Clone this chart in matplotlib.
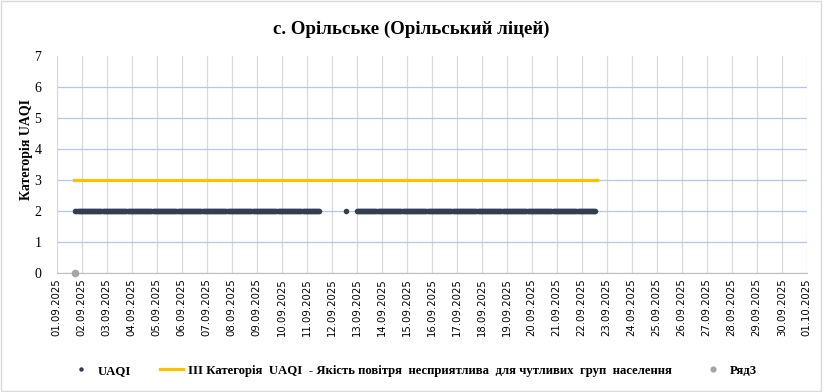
import matplotlib

matplotlib.use("Agg")
import matplotlib.dates as mdates
import matplotlib.pyplot as plt
import pandas as pd
from matplotlib.patches import Rectangle

# hourly UAQI category: observed runs of measurements (start, end, category)
uaqi_runs = [
    ("2025-09-01 18:00", "2025-09-11 12:00", 2),
    ("2025-09-12 14:00", "2025-09-12 14:00", 2),
    ("2025-09-13 00:00", "2025-09-22 13:00", 2),
]
# category III threshold line
threshold_start = "2025-09-01 17:00"
threshold_end = "2025-09-22 15:00"
threshold_level = 3
# Ряд3: single point
ryad3_time = ["2025-09-01 18:00"]
ryad3_value = [0]

x_min, x_max = "2025-09-01", "2025-10-01"
y_ticks = list(range(0, 8))

title = "с. Орільське (Орільський ліцей)"
y_label = "Категорія UAQI"
threshold_label = ("III Категорія  UAQI  - Якість повітря  несприятлива  "
                   "для чутливих  груп  населення")

uaqi_t, uaqi_v = [], []
for start, end, cat in uaqi_runs:
    ts = pd.date_range(start, end, freq="h")
    uaqi_t.extend(ts)
    uaqi_v.extend([cat] * len(ts))
thr_t = pd.date_range(threshold_start, threshold_end, freq="h")
thr_v = [threshold_level] * len(thr_t)

serif = "Liberation Serif"

fig = plt.figure(figsize=(8.23, 3.92), dpi=100)
ax = fig.add_axes([0.0689, 0.3036, 0.9113, 0.5534])

ax.plot(uaqi_t, uaqi_v, ls="none", marker="o", ms=4.0, mew=0,
        color="#333F50", label="UAQI", zorder=3)
ax.plot(thr_t, thr_v, color="#FFC000", lw=2.3, label=threshold_label, zorder=2)
ax.plot(pd.to_datetime(ryad3_time), ryad3_value, ls="none", marker="o",
        ms=5.5, mew=0, color="#A5A5A5", label="Ряд3", clip_on=False, zorder=4)

ax.set_xlim(pd.Timestamp(x_min), pd.Timestamp(x_max))
ax.set_ylim(0, 7)
ax.set_yticks(y_ticks)
ax.xaxis.set_major_locator(mdates.DayLocator())
ax.xaxis.set_major_formatter(mdates.DateFormatter("%d.%m.%Y"))
for lbl in ax.get_xticklabels():
    lbl.set_rotation(90)
    lbl.set_fontsize(7.3)
    lbl.set_family("DejaVu Sans")
for lbl in ax.get_yticklabels():
    lbl.set_fontsize(10)
    lbl.set_family(serif)
ax.tick_params(axis="x", length=0, pad=4)
ax.tick_params(axis="y", length=0, pad=11)

ax.grid(axis="x", color="#D9D9D9", lw=0.9)
ax.grid(axis="y", color="#B4C7E7", lw=0.9)
ax.get_ygridlines()[-1].set_visible(False)
ax.set_axisbelow(True)
for side in ("top", "right"):
    ax.spines[side].set_visible(False)
ax.spines["left"].set_color("#D9D9D9")
ax.spines["bottom"].set_color("#BFBFBF")

ax.set_ylabel(y_label, family=serif, fontsize=10, fontweight="bold")
ax.yaxis.set_label_coords(-0.032, 0.571)
fig.text(0.5, 0.925, title, ha="center", va="center", family=serif,
         fontsize=13.6, fontweight="bold")

leg = fig.legend(loc="center", bbox_to_anchor=(0.502, 0.054), ncol=3,
                 frameon=False, handlelength=1.8, columnspacing=2.3,
                 handletextpad=0.4,
                 prop={"family": serif, "size": 9.2, "weight": "bold"})
leg.legend_handles[0].set_markersize(3.2)
leg.legend_handles[2].set_markersize(4.5)

fig.patches.append(Rectangle((0.001, 0.002), 0.997, 0.995,
                             transform=fig.transFigure, fill=False,
                             edgecolor="#D9D9D9", lw=1))

fig.savefig("out.png", dpi=100)
